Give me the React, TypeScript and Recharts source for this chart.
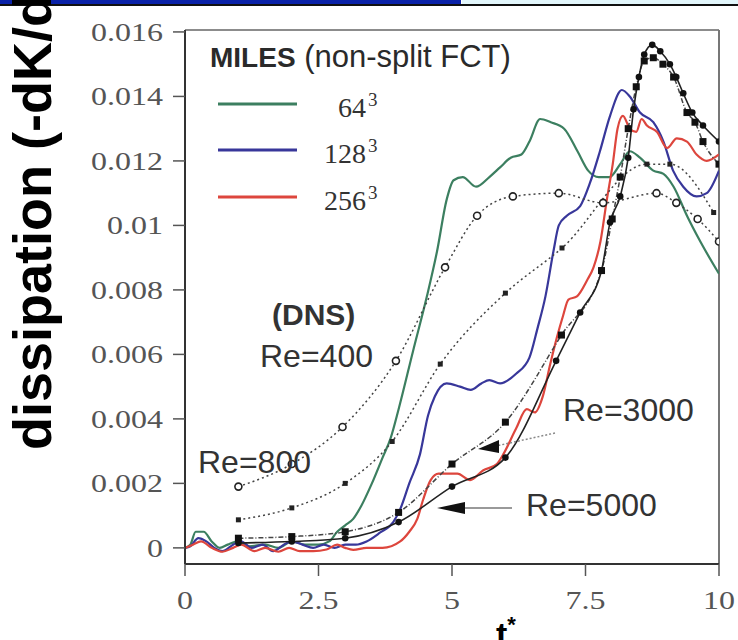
import React from 'react';
import { LineChart, Line, XAxis, YAxis, ReferenceLine } from 'recharts';

// axes
const X_TICKS = [0, 2.5, 5, 7.5, 10];
const X_TICK_LABELS = ['0', '2.5', '5', '7.5', '10'];
const Y_TICKS = [0, 0.002, 0.004, 0.006, 0.008, 0.01, 0.012, 0.014, 0.016];
const Y_TICK_LABELS = ['0', '0.002', '0.004', '0.006', '0.008', '0.01', '0.012', '0.014', '0.016'];
const Y_MIN = -0.0005;
const Y_MAX = 0.01606;

// MILES (non-split FCT) runs, [t*, dissipation]
const MILES_64 = [
  [0, 0], [0.1, 0.0001], [0.2, 0.0005], [0.35, 0.0005], [0.5, 0.0002], [0.65, 0], [0.8, 0.0001],
  [1.0, 0.0002], [1.2, 0.00005], [1.5, 0.0001], [1.75, 0], [2.0, 0.0002], [2.25, 0.0001], [2.5, 0.0001],
  [2.7, 0.0002], [2.85, 0.0005], [3.0, 0.0007], [3.15, 0.0009], [3.3, 0.0013], [3.5, 0.002], [3.7, 0.0028],
  [3.85, 0.0034], [4.0, 0.0043], [4.27, 0.0061], [4.53, 0.0078], [4.72, 0.0092], [4.9, 0.0108], [5.03, 0.0114],
  [5.2, 0.0115], [5.45, 0.0112], [5.7, 0.0115], [5.9, 0.0118], [6.1, 0.0121], [6.3, 0.0122], [6.45, 0.0126],
  [6.65, 0.0133], [6.85, 0.0132], [7.1, 0.013], [7.35, 0.0123], [7.55, 0.0117], [7.75, 0.0115], [7.95, 0.0115],
  [8.15, 0.0119], [8.33, 0.0123], [8.52, 0.0121], [8.77, 0.0117], [8.96, 0.0116], [9.15, 0.0112], [9.4, 0.0103],
  [9.65, 0.0095], [10, 0.0085],
];
const MILES_128 = [
  [0, 0], [0.1, 0.00005], [0.25, 0.0003], [0.4, 0.0002], [0.55, 0], [0.7, -0.0001], [0.9, 0.0001], [1.05, 0.0002],
  [1.25, 0], [1.45, 0.0001], [1.65, -0.0001], [1.85, 0.0001], [2.0, 0.0002], [2.2, 0.0001], [2.4, 0], [2.6, 0.0001],
  [2.8, 0], [3.0, 0.0001], [3.2, 0.0001], [3.4, 0.0002], [3.65, 0.00047], [3.9, 0.0008], [4.03, 0.0012], [4.2, 0.002],
  [4.4, 0.0029], [4.55, 0.0041], [4.68, 0.0047], [4.9, 0.0051], [5.15, 0.005], [5.35, 0.0049], [5.55, 0.0051],
  [5.7, 0.0052], [5.9, 0.0051], [6.2, 0.0054], [6.45, 0.0059], [6.6, 0.0068], [6.75, 0.0078], [6.9, 0.0092],
  [7.0, 0.01], [7.15, 0.0103], [7.4, 0.0106], [7.58, 0.0113], [7.77, 0.0123], [7.96, 0.0134], [8.18, 0.0142],
  [8.33, 0.014], [8.52, 0.0135], [8.77, 0.0132], [8.96, 0.0126], [9.14, 0.0117], [9.33, 0.0112], [9.58, 0.0109],
  [9.77, 0.011], [10, 0.0117],
];
const MILES_256 = [
  [0, 0], [0.15, 0.0001], [0.3, 0.0002], [0.5, 0], [0.7, -0.00012], [0.9, 0], [1.05, 0.0001], [1.3, -0.0001],
  [1.5, 0], [1.75, -0.00012], [1.95, 0], [2.15, -0.0001], [2.4, -0.0001], [2.65, -0.00005], [2.85, 0.0001], [3.0, 0],
  [3.15, -0.00006], [3.4, 0], [3.7, 0], [4.03, 0.0002], [4.2, 0.0005], [4.35, 0.0009], [4.46, 0.0015], [4.6, 0.0021],
  [4.75, 0.0023], [4.96, 0.0023], [5.1, 0.0023], [5.34, 0.0021], [5.58, 0.0024], [5.84, 0.0026], [5.96, 0.0029],
  [6.2, 0.0037], [6.4, 0.0043], [6.55, 0.0042], [6.7, 0.0047], [6.84, 0.0057], [6.96, 0.0065], [7.08, 0.0072],
  [7.18, 0.0077], [7.34, 0.0078], [7.53, 0.0083], [7.65, 0.0087], [7.78, 0.0095], [7.9, 0.0108], [8.01, 0.0119],
  [8.1, 0.013], [8.2, 0.0134], [8.33, 0.013], [8.45, 0.0129], [8.55, 0.0133], [8.65, 0.0131], [8.84, 0.0129],
  [9.03, 0.0124], [9.21, 0.0127], [9.4, 0.0126], [9.58, 0.0122], [9.77, 0.012], [10, 0.0122],
];

// DNS reference runs
const DNS_400 = [
  [1, 0.0019], [2, 0.0026], [2.95, 0.00375], [3.95, 0.0058], [4.87, 0.0087], [5.47, 0.0103], [6.14, 0.0109],
  [7.0, 0.011], [7.83, 0.0107], [8.83, 0.011], [9.2, 0.0107], [9.6, 0.0102], [10, 0.0095],
];
const DNS_800 = [
  [1, 0.00087], [2, 0.00124], [3, 0.002], [3.88, 0.0033], [4.78, 0.0057], [6.0, 0.0079], [7.06, 0.0093],
  [8.65, 0.0119], [9.08, 0.0119], [9.9, 0.0104],
];
const DNS_3000 = [
  [1, 0.0003], [2, 0.00035], [3, 0.0005], [4, 0.0011], [5, 0.0026], [6, 0.0039], [7.05, 0.0066], [7.8, 0.0086],
  [8.0, 0.0102], [8.15, 0.0115], [8.3, 0.013], [8.45, 0.0143], [8.6, 0.0151], [8.77, 0.0152], [8.95, 0.015],
  [9.15, 0.0146], [9.4, 0.0135], [9.55, 0.0132], [9.7, 0.0126], [10, 0.0119],
];
const DNS_5000 = [
  [1, 0.00015], [2, 0.0002], [3, 0.0003], [4, 0.0008], [5, 0.0019], [6, 0.0028], [6.95, 0.0058], [7.4, 0.0073],
  [7.8, 0.0086], [7.96, 0.0101], [8.15, 0.0109], [8.3, 0.0121], [8.4, 0.0136], [8.5, 0.0146], [8.6, 0.0153],
  [8.75, 0.0156], [8.9, 0.0154], [9.08, 0.015], [9.2, 0.0146], [9.33, 0.0141], [9.5, 0.0135], [9.7, 0.0131],
  [10, 0.0126],
];

const rows = (pts: number[][]) => pts.map(([t, v]) => ({ t, v }));

const GREEN = '#3c7f60';
const BLUE = '#38379a';
const RED = '#dd463d';
const SERIF = '"Liberation Serif", "Times New Roman", serif';
const SANS = '"Liberation Sans", Arial, sans-serif';

const openCircle = (p: any) => (
  <circle key={`oc-${p.index}`} cx={p.cx} cy={p.cy} r={3.5} fill="#fff" stroke="#222" strokeWidth={1.6} />
);
const smallSquare = (p: any) => (
  <rect key={`ss-${p.index}`} x={p.cx - 2.5} y={p.cy - 2.5} width={5} height={5} fill="#222" />
);
const bigSquare = (p: any) => (
  <rect key={`bs-${p.index}`} x={p.cx - 3.5} y={p.cy - 3.5} width={7} height={7} fill="#111" />
);
const filledDot = (p: any) => (
  <circle key={`fd-${p.index}`} cx={p.cx} cy={p.cy} r={3.3} fill="#111" />
);

const YTick = ({ x, y, payload }: any) => {
  const i = Y_TICKS.findIndex((v) => Math.abs(v - payload.value) < 1e-9);
  return (
    <text transform={`translate(${x},${y}) scale(1.28,1)`} dy="0.35em" textAnchor="end"
      fontFamily={SERIF} fontSize={25} fill="#555">
      {Y_TICK_LABELS[i]}
    </text>
  );
};

const XTick = ({ x, y, payload }: any) => {
  const i = X_TICKS.findIndex((v) => Math.abs(v - payload.value) < 1e-9);
  return (
    <text transform={`translate(${x},${y}) scale(1.28,1)`} dy="0.71em" textAnchor="middle"
      fontFamily={SERIF} fontSize={25} fill="#555">
      {X_TICK_LABELS[i]}
    </text>
  );
};

const Overlay = () => (
  <svg width={738} height={640} style={{ position: 'absolute', left: 0, top: 0, pointerEvents: 'none' }}>
    {/* slide banner */}
    <rect x={0} y={0} width={461} height={4} fill="#0a22a8" />
    <rect x={462} y={0} width={276} height={4} fill="#e2f6fb" />
    <rect x={0} y={4} width={738} height={2} fill="#111" />

    <text transform="translate(51,450) rotate(-90)" fontFamily={SANS} fontWeight="bold" fontSize={54} fill="#000">
      dissipation (-dK/dt)
    </text>
    <text x={496} y={646} fontFamily={SANS} fontWeight="bold" fontSize={34} fill="#000">
      t<tspan fontSize={22} dy={-14}>*</tspan>
    </text>

    {/* legend */}
    <text x={210} y={67} fontFamily={SANS} fill="#2a2a2a">
      <tspan fontWeight="bold" fontSize={28}>MILES</tspan>
      <tspan fontSize={31}> (non-split FCT)</tspan>
    </text>
    <line x1={218} x2={297} y1={104} y2={104} stroke={GREEN} strokeWidth={3} />
    <line x1={218} x2={297} y1={150} y2={150} stroke={BLUE} strokeWidth={3} />
    <line x1={218} x2={297} y1={197} y2={197} stroke={RED} strokeWidth={3} />
    {[['64', 117], ['128', 163], ['256', 210]].map(([s, y]) => (
      <g key={s as string} fontFamily={SERIF} fill="#333">
        <text x={366} y={y as number} textAnchor="end" fontSize={28}>{s}</text>
        <text x={368} y={(y as number) - 11} fontSize={19}>3</text>
      </g>
    ))}

    {/* annotations */}
    <g fontFamily={SANS} fill="#333">
      <text x={272} y={325} fontWeight="bold" fontSize={30}>(DNS)</text>
      <text x={260} y={367} fontSize={32}>Re=400</text>
      <text x={198} y={473} fontSize={32}>Re=800</text>
      <text x={563} y={421} fontSize={32}>Re=3000</text>
      <text x={526} y={516} fontSize={32}>Re=5000</text>
    </g>
    <line x1={512} y1={508} x2={462} y2={508} stroke="#999" strokeWidth={2} />
    <polygon points="437,508 465,502 465,514" fill="#111" />
    <line x1={555} y1={433} x2={496} y2={446} stroke="#888" strokeWidth={1.5} strokeDasharray="2 2" />
    <polygon points="478,449 499,440 499,453" fill="#111" />
  </svg>
);

export default function App() {
  return (
    <div style={{ position: 'absolute', left: 0, top: 0, width: 738, height: 640, background: '#fff' }}>
      <LineChart width={738} height={640} margin={{ top: 30, right: 19, bottom: 16, left: 85 }}>
        <XAxis type="number" dataKey="t" domain={[0, 10]} ticks={X_TICKS} allowDataOverflow
          height={60} tickSize={12} tickMargin={15} tick={<XTick />}
          axisLine={{ stroke: '#333', strokeWidth: 2 }} tickLine={{ stroke: '#555', strokeWidth: 1.5 }} />
        <YAxis type="number" dataKey="v" domain={[Y_MIN, Y_MAX]} ticks={Y_TICKS} allowDataOverflow
          width={100} tickSize={12} tickMargin={10} tick={<YTick />}
          axisLine={{ stroke: '#333', strokeWidth: 2 }} tickLine={{ stroke: '#555', strokeWidth: 1.5 }} />
        <ReferenceLine y={Y_MAX} stroke="#666" strokeWidth={1.5} />
        <ReferenceLine x={10} stroke="#777" strokeWidth={2} />

        <Line data={rows(MILES_64)} dataKey="v" type="monotone" stroke={GREEN} strokeWidth={2.2} dot={false} isAnimationActive={false} />
        <Line data={rows(MILES_128)} dataKey="v" type="monotone" stroke={BLUE} strokeWidth={2.2} dot={false} isAnimationActive={false} />
        <Line data={rows(MILES_256)} dataKey="v" type="monotone" stroke={RED} strokeWidth={2.2} dot={false} isAnimationActive={false} />

        <Line data={rows(DNS_400)} dataKey="v" type="monotone" stroke="#444" strokeWidth={1.5} strokeDasharray="2 3" dot={openCircle} isAnimationActive={false} />
        <Line data={rows(DNS_800)} dataKey="v" type="monotone" stroke="#444" strokeWidth={1.5} strokeDasharray="2 3" dot={smallSquare} isAnimationActive={false} />
        <Line data={rows(DNS_3000)} dataKey="v" type="monotone" stroke="#444" strokeWidth={1.5} strokeDasharray="5 2 1 2" dot={bigSquare} isAnimationActive={false} />
        <Line data={rows(DNS_5000)} dataKey="v" type="monotone" stroke="#222" strokeWidth={1.6} dot={filledDot} isAnimationActive={false} />
      </LineChart>
      <Overlay />
    </div>
  );
}
